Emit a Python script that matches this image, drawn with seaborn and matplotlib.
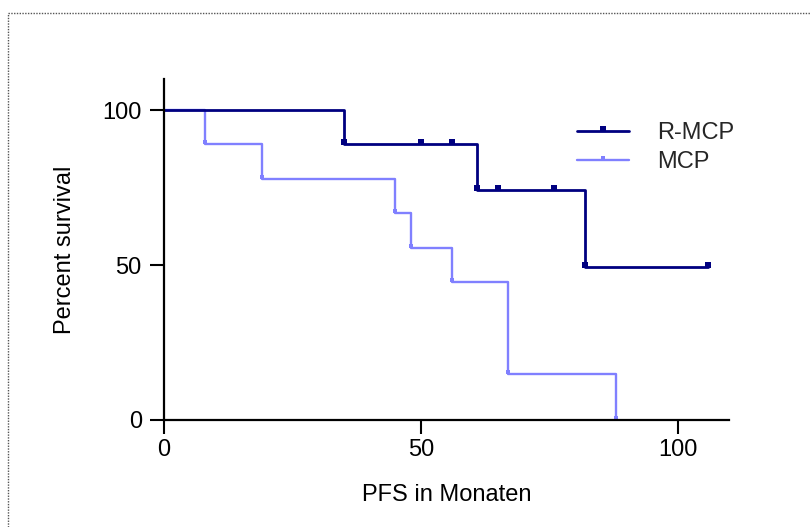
import numpy as np
import pandas as pd
import matplotlib
matplotlib.use("Agg")
import matplotlib.pyplot as plt
import seaborn as sns
from matplotlib.path import Path
from matplotlib.lines import Line2D

# ---- data ----
groups = ["R-MCP", "MCP"]
rmcp_time = [0, 35, 61, 82, 106]
rmcp_surv = [100, 88.9, 74.1, 49.4, 49.4]
rmcp_event_time = [35, 61, 82]
rmcp_event_surv = [88.9, 74.1, 49.4]
rmcp_cens_time = [50, 56, 65, 76, 106]
rmcp_cens_surv = [88.9, 88.9, 74.1, 74.1, 49.4]

mcp_time = [0, 8, 19, 45, 48, 56, 67, 88]
mcp_surv = [100, 88.9, 77.8, 66.7, 55.6, 44.4, 14.8, 0]
mcp_mark_time = [8, 19, 45, 48, 56, 67, 88]
mcp_mark_surv = [88.9, 77.8, 66.7, 55.6, 44.4, 14.8, 0]

x_ticks = [0, 50, 100]
y_ticks = [0, 50, 100]

colors = {"R-MCP": "#000080", "MCP": "#8080ff"}

sns.set_theme(style="ticks")
plt.rcParams["font.family"] = ["Liberation Sans", "DejaVu Sans"]

fig = plt.figure(figsize=(8.1, 5.27), dpi=100)
W, H = 810, 527
ax = fig.add_axes([164 / W, 1 - 420 / H, (729 - 164) / W, (420 - 79) / H])

# custom marker: small block sitting on top of the point
mk = Path([(-0.55, -0.1), (0.55, -0.1), (0.55, 1), (-0.55, 1), (-0.55, -0.1)],
          [Path.MOVETO, Path.LINETO, Path.LINETO, Path.LINETO, Path.CLOSEPOLY])

df_r = pd.DataFrame({"time": rmcp_time, "surv": rmcp_surv})
df_m = pd.DataFrame({"time": mcp_time, "surv": mcp_surv})

sns.lineplot(data=df_m, x="time", y="surv", ax=ax, color=colors["MCP"],
             linewidth=1.7, drawstyle="steps-post", estimator=None, sort=False,
             legend=False)
sns.lineplot(data=df_r, x="time", y="surv", ax=ax, color=colors["R-MCP"],
             linewidth=2.0, drawstyle="steps-post", estimator=None, sort=False,
             legend=False)

ax.plot(mcp_mark_time, mcp_mark_surv, linestyle="none", marker=mk,
        markersize=5.5, color=colors["MCP"], markeredgewidth=0)
ax.plot(rmcp_event_time + rmcp_cens_time, rmcp_event_surv + rmcp_cens_surv,
        linestyle="none", marker=mk, markersize=7.5, color=colors["R-MCP"],
        markeredgewidth=0)

ax.set_xlim(0, 110)
ax.set_ylim(0, 110)
ax.set_xticks(x_ticks)
ax.set_yticks(y_ticks)
ax.set_xticklabels([str(v) for v in x_ticks])
ax.set_yticklabels([str(v) for v in y_ticks])
ax.tick_params(axis="both", length=10, width=1.5, color="black",
               labelsize=17, labelcolor="black", direction="out")
ax.tick_params(axis="y", pad=6)
ax.tick_params(axis="x", pad=4)
for s in ["left", "bottom"]:
    ax.spines[s].set_linewidth(1.6)
    ax.spines[s].set_color("black")
for s in ["top", "right"]:
    ax.spines[s].set_visible(False)

ax.set_xlabel("PFS in Monaten", fontsize=17, color="black", labelpad=16)
ax.set_ylabel("Percent survival", fontsize=17, color="black", labelpad=19)

handles = [
    Line2D([0], [0], color=colors["R-MCP"], lw=2.0, marker=mk, markersize=7.5,
           markeredgewidth=0),
    Line2D([0], [0], color=colors["MCP"], lw=1.7, marker=mk, markersize=5.5,
           markeredgewidth=0),
]
ax.legend(handles, groups, loc="upper left",
          bbox_to_anchor=((577 - 164) / 565, 1 - (122 - 79) / 341),
          frameon=False, fontsize=17, handlelength=2.2, handletextpad=1.2,
          labelspacing=0.3, borderpad=0, borderaxespad=0, numpoints=1)

# dotted frame (top and left edges)
fig.add_artist(Line2D([8 / W, 1], [1 - 13 / H, 1 - 13 / H], transform=fig.transFigure,
                      color="#555555", lw=1, linestyle=(0, (1, 1))))
fig.add_artist(Line2D([8 / W, 8 / W], [0, 1 - 13 / H], transform=fig.transFigure,
                      color="#555555", lw=1, linestyle=(0, (1, 1))))

fig.savefig("out.png", dpi=100, facecolor="white")
